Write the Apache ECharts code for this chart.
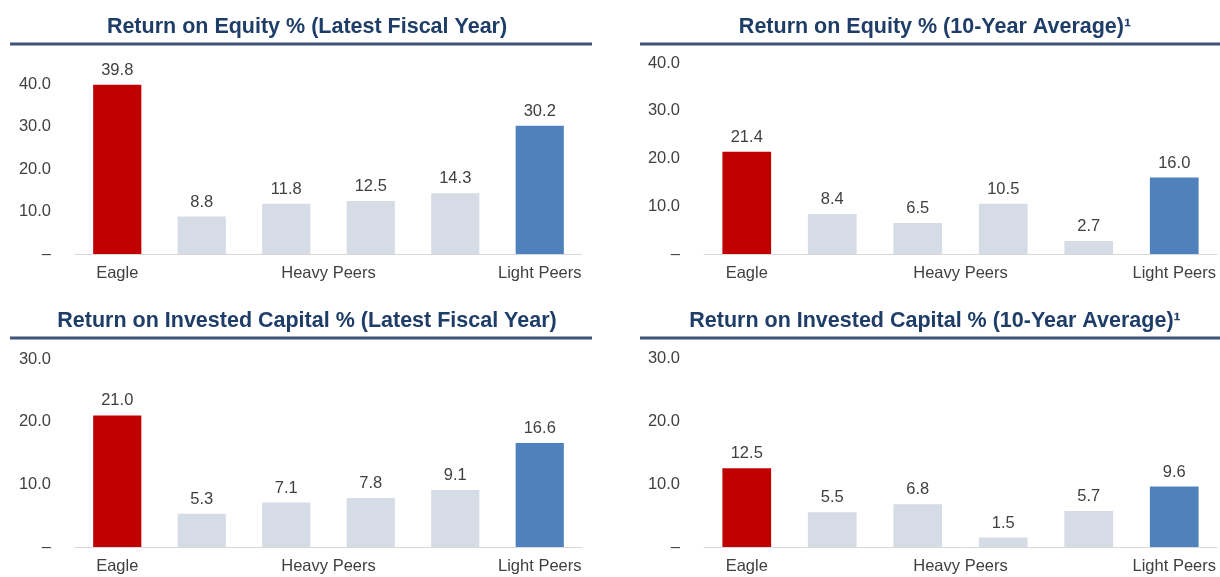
<!DOCTYPE html>
<html>
<head>
<meta charset="utf-8">
<title>Return on Equity / Invested Capital</title>
<script src="https://cdn.jsdelivr.net/npm/echarts@6/dist/echarts.min.js"></script>
<style>
  html, body { margin: 0; padding: 0; background: #fff; }
  #chart { width: 1220px; height: 577px; }
</style>
</head>
<body>
<div id="chart"></div>
<script>
// categories (peer names are not shown on the chart)
const categories = ['Eagle', 'Heavy 1', 'Heavy 2', 'Heavy 3', 'Heavy 4', 'Light Peers'];

// group labels under the axis, with the category span they cover
const groupNames = ['Eagle', 'Heavy Peers', 'Light Peers'];
const groupSpans = [[0, 0], [1, 4], [5, 5]];

// values
const roeLatest = [39.8, 8.8, 11.8, 12.5, 14.3, 30.2];
const roeAvg = [21.4, 8.4, 6.5, 10.5, 2.7, 16.0];
const roicLatest = [21.0, 5.3, 7.1, 7.8, 9.1, 16.6];
const roicAvg = [12.5, 5.5, 6.8, 1.5, 5.7, 9.6];

const titles = [
  'Return on Equity % (Latest Fiscal Year)',
  'Return on Equity % (10-Year Average)\u00b9',
  'Return on Invested Capital % (Latest Fiscal Year)',
  'Return on Invested Capital % (10-Year Average)\u00b9'
];
const yMax = [40, 40, 30, 30];
const yTicks = [0, 10, 20, 30, 40];

const font = 'Arial, "Liberation Sans", Helvetica, sans-serif';
const textColor = '#404040';
const titleColor = '#1E3D67';
const ruleColor = '#3E5478';
const colors = { eagle: '#C00000', heavy: '#D5DCE6', light: '#4F81BD' };

const panels = [
  { data: roeLatest, grid: { left: 75, width: 507, top: 84, height: 170 }, cx: 302, ty: 11 },
  { data: roeAvg, grid: { left: 704, width: 514, top: 63, height: 191 }, cx: 930, ty: 11 },
  { data: roicLatest, grid: { left: 75, width: 507, top: 359, height: 188 }, cx: 302, ty: 305 },
  { data: roicAvg, grid: { left: 704, width: 514, top: 358, height: 189 }, cx: 930, ty: 305 }
];

const chart = echarts.init(document.getElementById('chart'));

const grid = [], xAxis = [], yAxis = [], series = [], title = [];

panels.forEach((p, i) => {
  grid.push(p.grid);

  title.push({
    text: titles[i],
    left: p.cx,
    top: p.ty,
    textAlign: 'center',
    textStyle: { fontFamily: font, fontSize: 21.5, fontWeight: 'bold', color: titleColor }
  });

  // bar axis
  xAxis.push({
    type: 'category',
    gridIndex: i,
    data: categories,
    axisLine: { lineStyle: { color: '#D9D9D9', width: 1 } },
    axisTick: { show: false },
    axisLabel: { show: false }
  });
  // group label axis, in half-category steps
  xAxis.push({
    type: 'value',
    gridIndex: i,
    position: 'bottom',
    min: 0,
    max: categories.length * 2,
    interval: 1,
    axisLine: { show: false },
    axisTick: { show: false },
    splitLine: { show: false },
    axisLabel: {
      margin: 11,
      fontFamily: font,
      fontSize: 16.5,
      color: textColor,
      showMinLabel: true,
      showMaxLabel: true,
      formatter: v => {
        const g = groupSpans.findIndex(s => s[0] + s[1] + 1 === v);
        return g >= 0 ? groupNames[g] : '';
      }
    }
  });

  yAxis.push({
    type: 'value',
    gridIndex: i,
    min: 0,
    max: yMax[i],
    interval: 10,
    axisLine: { show: false },
    axisTick: { show: false },
    splitLine: { show: false },
    axisLabel: {
      margin: 24,
      fontFamily: font,
      fontSize: 16.5,
      color: textColor,
      formatter: v => (yTicks.indexOf(v) < 0 ? '' : v === 0 ? '\u2013' : v.toFixed(1))
    }
  });

  series.push({
    type: 'bar',
    xAxisIndex: i * 2,
    yAxisIndex: i,
    barWidth: '57%',
    data: p.data,
    itemStyle: {
      color: params => params.dataIndex === 0 ? colors.eagle
        : params.dataIndex === categories.length - 1 ? colors.light : colors.heavy
    },
    label: {
      show: true,
      position: 'top',
      distance: 6,
      fontFamily: font,
      fontSize: 16.5,
      color: textColor,
      formatter: d => d.value.toFixed(1)
    }
  });
});

// rules under the titles
const rule = (x1, x2, y) => ({
  type: 'line',
  shape: { x1: x1, y1: y, x2: x2, y2: y },
  style: { stroke: ruleColor, lineWidth: 3 }
});

chart.setOption({
  animation: false,
  title: title,
  grid: grid,
  xAxis: xAxis,
  yAxis: yAxis,
  series: series,
  graphic: [rule(10, 592, 44), rule(640, 1220, 44), rule(10, 592, 338), rule(640, 1220, 338)]
});
</script>
</body>
</html>
